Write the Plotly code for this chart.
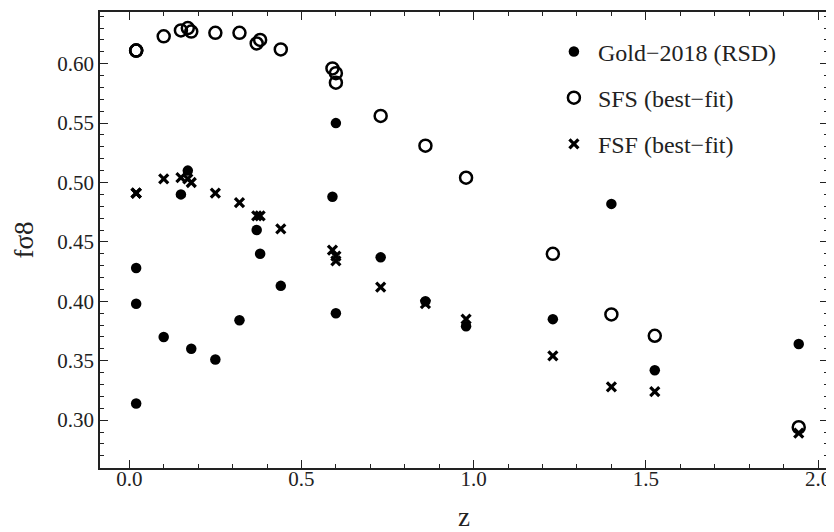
import plotly.graph_objects as go

# Redshifts (Gold-2018 compilation)
z = [0.02, 0.02, 0.02, 0.10, 0.15, 0.17, 0.18, 0.38, 0.25, 0.37, 0.32,
     0.59, 0.44, 0.60, 0.73, 0.60, 0.86, 1.40, 0.978, 1.23, 1.526, 1.944]

# Gold-2018 (RSD) measurements
gold = [0.428, 0.398, 0.314, 0.370, 0.490, 0.510, 0.360, 0.440, 0.351, 0.460, 0.384,
        0.488, 0.413, 0.390, 0.437, 0.550, 0.400, 0.482, 0.379, 0.385, 0.342, 0.364]

# SFS best-fit predictions
sfs = [0.611, 0.611, 0.611, 0.623, 0.628, 0.630, 0.627, 0.620, 0.626, 0.617, 0.626,
       0.596, 0.612, 0.584, 0.556, 0.592, 0.531, 0.389, 0.504, 0.440, 0.371, 0.294]

# FSF best-fit predictions
fsf = [0.491, 0.491, 0.491, 0.503, 0.504, 0.503, 0.500, 0.472, 0.491, 0.472, 0.483,
       0.443, 0.461, 0.434, 0.412, 0.438, 0.398, 0.328, 0.385, 0.354, 0.324, 0.289]

FONT = "Liberation Serif"

fig = go.Figure()
fig.add_trace(go.Scatter(x=z, y=sfs, mode="markers", name="SFS (best\u2212fit)",
                         legendgroup="b", legendrank=2,
                         marker=dict(symbol="circle-open", size=12, color="black",
                                     line=dict(width=2.5, color="black"))))
fig.add_trace(go.Scatter(x=z, y=fsf, mode="markers", name="FSF (best\u2212fit)",
                         legendgroup="c", legendrank=3,
                         marker=dict(symbol="x-thin", size=9, color="black",
                                     line=dict(width=3.2, color="black"))))
fig.add_trace(go.Scatter(x=z, y=gold, mode="markers", name="Gold\u22122018 (RSD)",
                         legendgroup="a", legendrank=1,
                         marker=dict(symbol="circle", size=10.5, color="black")))

axis_common = dict(
    showline=True, linecolor="#222", linewidth=1.8, mirror="allticks",
    ticks="inside", ticklen=8, tickwidth=1.3, tickcolor="#222",
    showgrid=False, zeroline=False,
    tickfont=dict(family=FONT, size=21, color="#222"),
)

fig.update_xaxes(range=[-0.085, 2.029], dtick=0.5, tick0=0, tickformat=".1f",
                 minor=dict(dtick=0.1, tick0=0, ticks="inside", ticklen=4, tickwidth=1.2, tickcolor="#222"),
                 title=dict(text="z", font=dict(family=FONT, size=27, color="#222"), standoff=26),
                 ticklabelstandoff=-9,
                 **axis_common)
fig.update_yaxes(range=[0.2597, 0.6435], dtick=0.05, tick0=0.3, tickformat=".2f",
                 minor=dict(dtick=0.01, tick0=0.3, ticks="inside", ticklen=4, tickwidth=1.2, tickcolor="#222"),
                 title=dict(text="f\u03c38", font=dict(family=FONT, size=27, color="#222"), standoff=16),
                 **axis_common)

# The page body has an 8px default margin; size and margins compensate for it.
fig.update_layout(
    width=826, height=524,
    margin=dict(l=92, r=6, t=4, b=64, autoexpand=False),
    plot_bgcolor="white", paper_bgcolor="white",
    font=dict(family=FONT, color="#222"),
    legend=dict(x=0.618, y=0.962, xanchor="left", yanchor="top",
                bgcolor="rgba(0,0,0,0)", traceorder="grouped", tracegroupgap=12,
                itemwidth=38,
                font=dict(family=FONT, size=24, color="#222")),
)

fig.write_html("out.html")
